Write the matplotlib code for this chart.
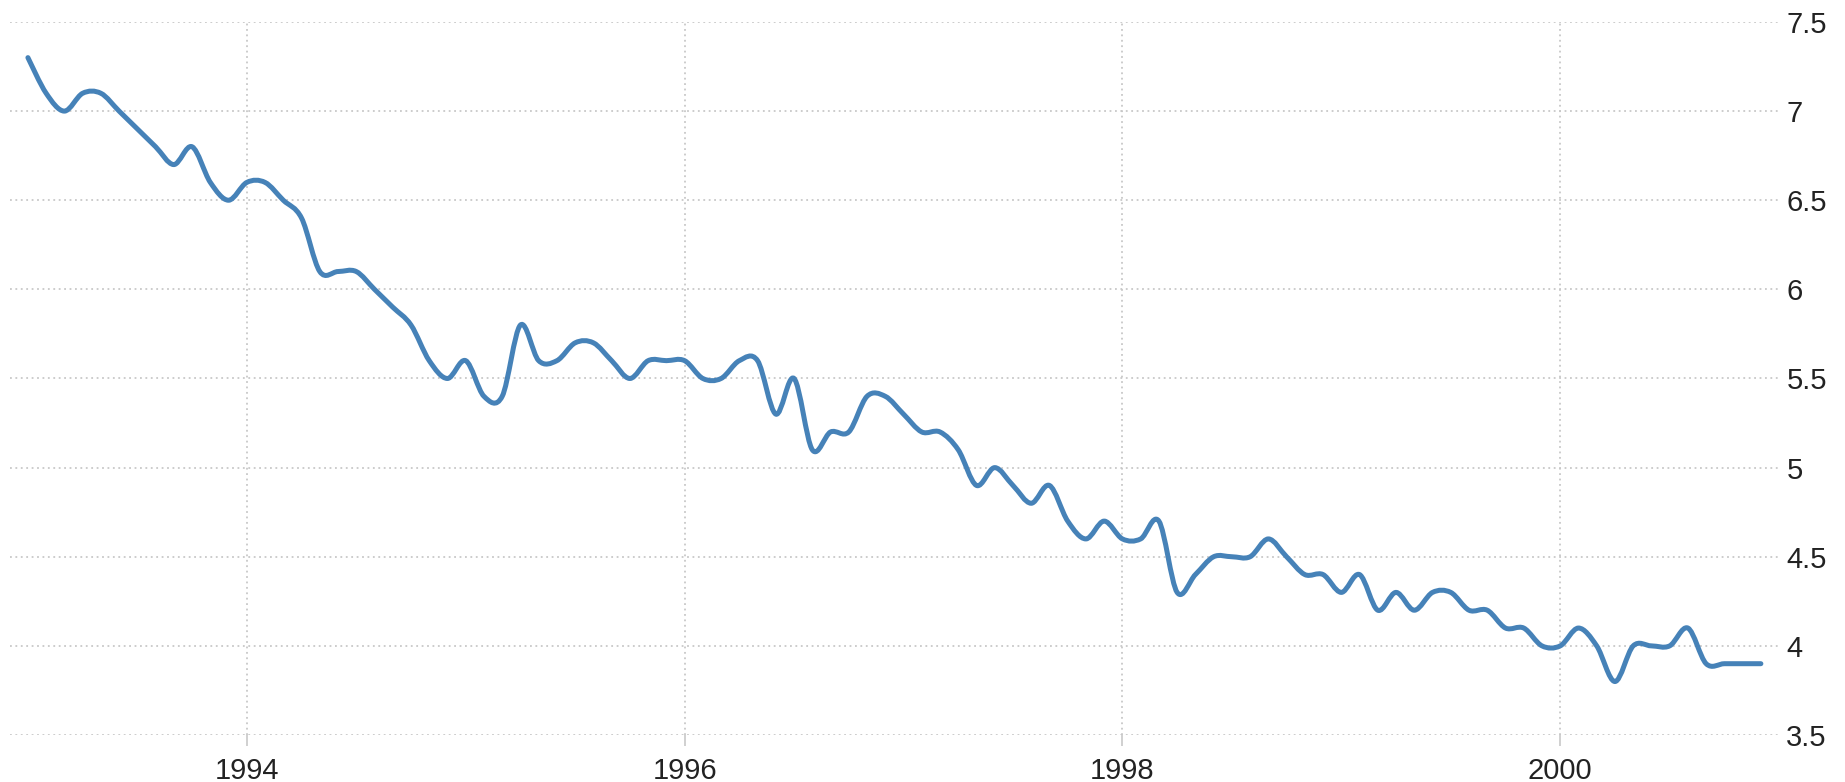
# monthly unemployment rate 1993-2000, smooth blue line with right-hand axis
import numpy as np
import matplotlib.pyplot as plt
from matplotlib.path import Path
from matplotlib.patches import PathPatch

start_year = 1993
rate = [
    7.3, 7.1, 7.0, 7.1, 7.1, 7.0, 6.9, 6.8, 6.7, 6.8, 6.6, 6.5,  # 1993
    6.6, 6.6, 6.5, 6.4, 6.1, 6.1, 6.1, 6.0, 5.9, 5.8, 5.6, 5.5,  # 1994
    5.6, 5.4, 5.4, 5.8, 5.6, 5.6, 5.7, 5.7, 5.6, 5.5, 5.6, 5.6,  # 1995
    5.6, 5.5, 5.5, 5.6, 5.6, 5.3, 5.5, 5.1, 5.2, 5.2, 5.4, 5.4,  # 1996
    5.3, 5.2, 5.2, 5.1, 4.9, 5.0, 4.9, 4.8, 4.9, 4.7, 4.6, 4.7,  # 1997
    4.6, 4.6, 4.7, 4.3, 4.4, 4.5, 4.5, 4.5, 4.6, 4.5, 4.4, 4.4,  # 1998
    4.3, 4.4, 4.2, 4.3, 4.2, 4.3, 4.3, 4.2, 4.2, 4.1, 4.1, 4.0,  # 1999
    4.0, 4.1, 4.0, 3.8, 4.0, 4.0, 4.0, 4.1, 3.9, 3.9, 3.9, 3.9,  # 2000
]
year_ticks = [1994, 1996, 1998, 2000]
y_ticks = [3.5, 4, 4.5, 5, 5.5, 6, 6.5, 7, 7.5]
y_labels = ['3.5', '4', '4.5', '5', '5.5', '6', '6.5', '7', '7.5']

x = start_year + np.arange(len(rate)) / 12.0
y = np.array(rate)


# Catmull-Rom spline turned into cubic bezier segments (curve passes through every point)
def smooth_path(xs, ys, k=1/6):
    pts = np.column_stack([xs, ys])
    verts = [pts[0]]
    codes = [Path.MOVETO]
    n = len(pts)
    for i in range(n - 1):
        p0 = pts[max(i - 1, 0)]
        p1 = pts[i]
        p2 = pts[i + 1]
        p3 = pts[min(i + 2, n - 1)]
        verts += [p1 + (p2 - p0) * k, p2 - (p3 - p1) * k, p2]
        codes += [Path.CURVE4] * 3
    return Path(verts, codes)


fig = plt.figure(figsize=(18.45, 7.82), dpi=100)
ax = fig.add_axes([0.0054, 0.0601, 0.9583, 0.9118])

ax.add_patch(PathPatch(smooth_path(x, y), facecolor='none', edgecolor='#4682b8',
                       lw=3.6, capstyle='round', joinstyle='round', zorder=3))

ax.set_xlim(1992.918, 2000.995)
ax.set_ylim(3.5, 7.5)

ax.set_xticks(year_ticks)
ax.set_xticklabels([str(v) for v in year_ticks])
ax.set_yticks(y_ticks)
ax.set_yticklabels(y_labels)

ax.yaxis.tick_right()
ax.tick_params(axis='y', length=0, pad=6)
ax.tick_params(axis='x', length=8, width=1.2, color='#c8c8c8', pad=8)
for lab in ax.get_xticklabels() + ax.get_yticklabels():
    lab.set_fontfamily('Liberation Sans')
    lab.set_fontsize(21)
    lab.set_color('#222222')

ax.grid(True, color='#c8c8c8', linestyle=(0, (1, 2)), linewidth=1.3)
for s in ax.spines.values():
    s.set_visible(False)

fig.savefig('out.png', dpi=100)
